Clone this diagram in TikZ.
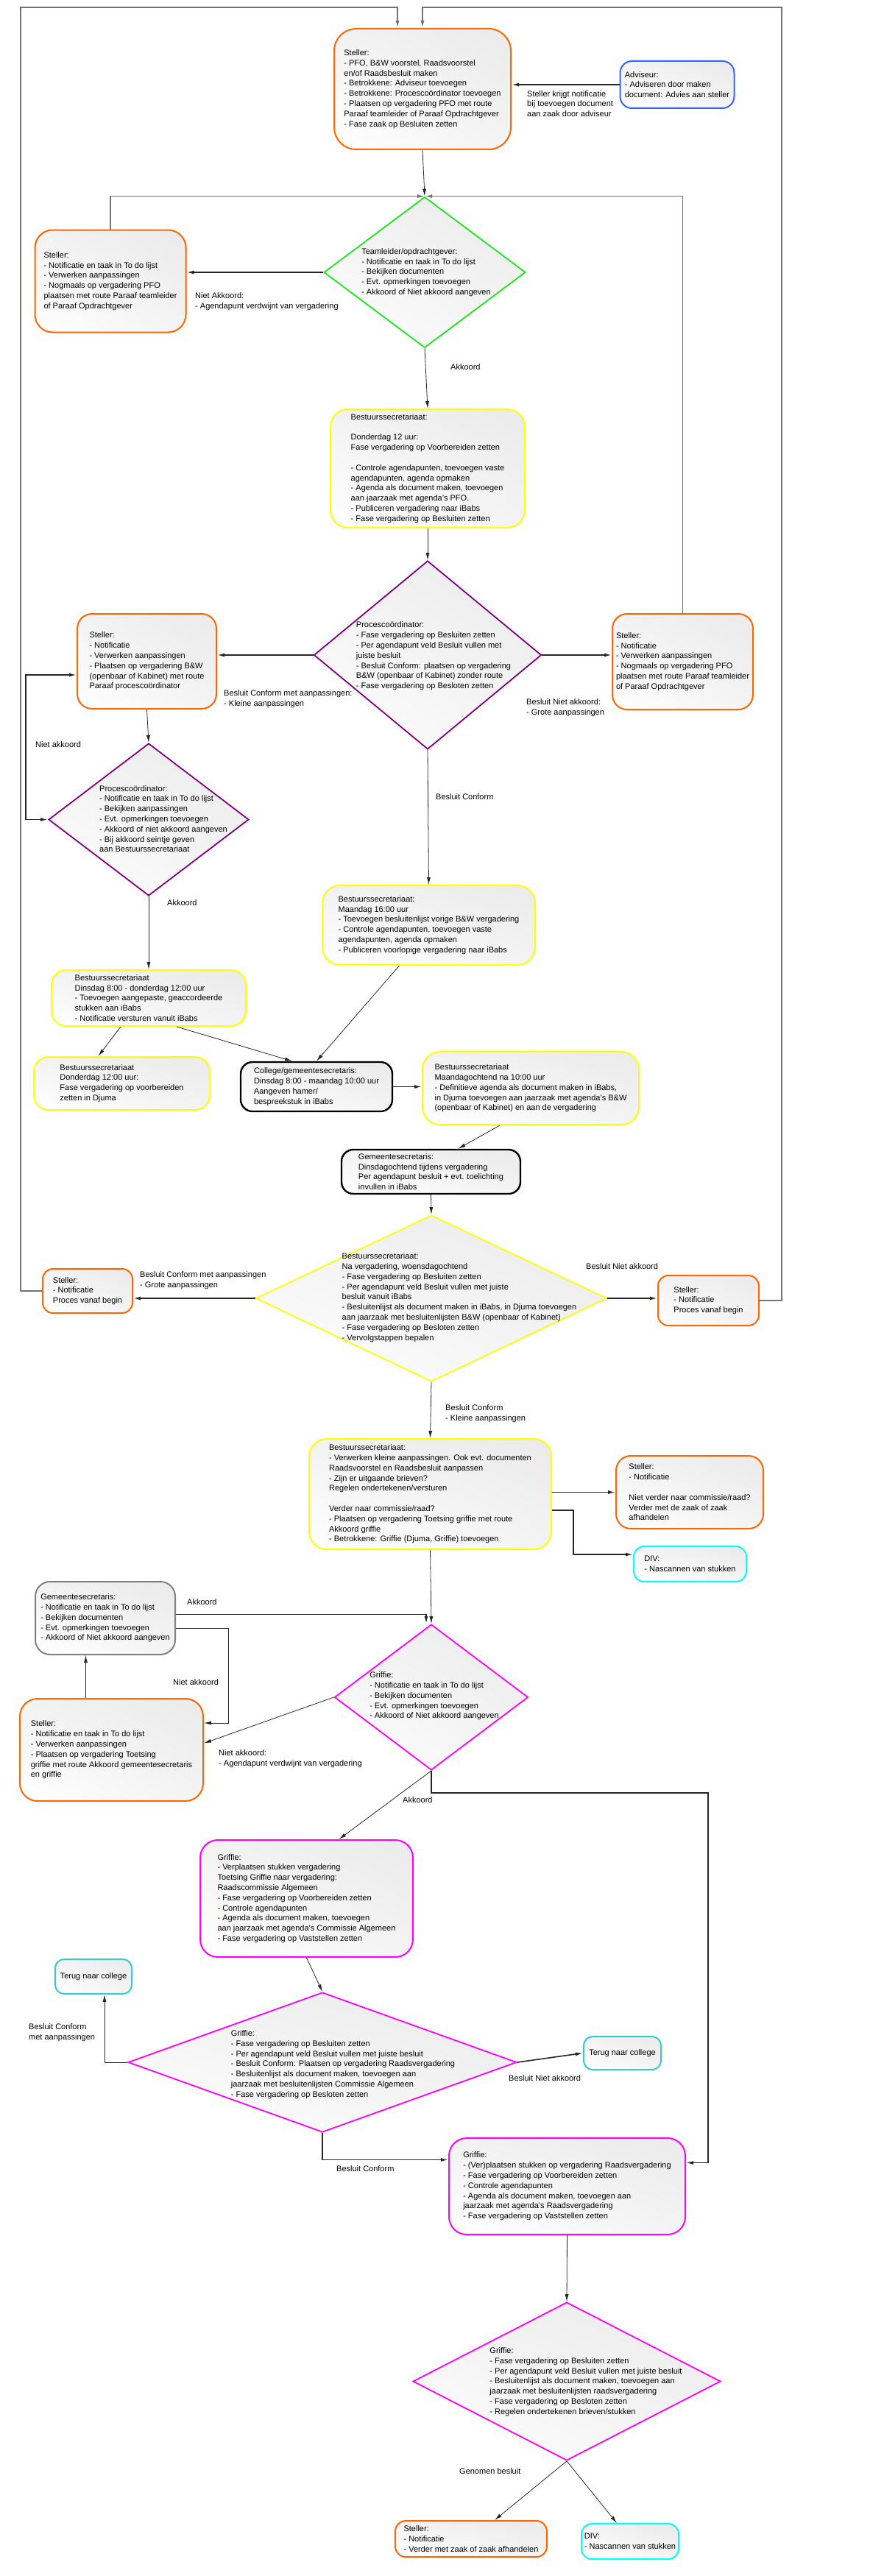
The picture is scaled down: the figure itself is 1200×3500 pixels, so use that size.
\documentclass[tikz,border=0pt]{standalone}
\usepackage{fontspec}
\setmainfont{Liberation Sans}
\usetikzlibrary{shapes.geometric,arrows.meta,shadings}
\definecolor{orng}{RGB}{255,102,0}
\definecolor{blu}{RGB}{51,102,255}
\definecolor{grn}{RGB}{30,230,30}
\definecolor{prpl}{RGB}{128,0,128}
\definecolor{ylw}{RGB}{255,255,0}
\definecolor{mgnt}{RGB}{255,0,255}
\definecolor{cyn}{RGB}{0,255,255}
\definecolor{teal2}{RGB}{51,204,204}
\newcommand\boxfont{\fontsize{11}{13.8}\selectfont}
\tikzset{
  box/.style={rounded corners=24pt, line width=2pt, align=left, inner sep=0pt, font=\boxfont,
    lower left=white, upper left=gray!10, upper right=gray!16, lower right=gray!9},
  steller/.style={box, draw=orng},
  secr/.style={box, draw=ylw},
  griffie/.style={box, draw=mgnt},
  zwart/.style={box, draw=black, line width=2.4pt, rounded corners=16pt},
  divbox/.style={box, draw=cyn, rounded corners=14pt},
  terug/.style={box, draw=teal2, rounded corners=12pt},
  dia/.style={shape=diamond, inner sep=0pt, line width=1.8pt,
    lower left=white, upper left=gray!10, upper right=gray!16, lower right=gray!9},
  dtxt/.style={align=left, inner sep=0pt, font=\boxfont},
  lbl/.style={align=left, inner sep=0pt, anchor=west, font=\boxfont},
  conn/.style={draw=black!85, line width=0.8pt, -{Latex[length=10pt,width=5pt]}},
  thk/.style={line width=1.6pt},
  dubbel/.style={{Latex[length=10pt,width=5pt]}-{Latex[length=10pt,width=5pt]}},
  loopl/.style={draw=black!55, line width=1.6pt, -{Latex[length=10pt,width=5pt]}},
}

\begin{document}
\begin{tikzpicture}[x=1pt,y=-1pt]
\useasboundingbox (0,0) rectangle (1200,3500);
\coordinate (lt) at (28,10);
\coordinate (rt) at (1062,10);
\coordinate (k0) at (35,917);
\coordinate (k1) at (779,2112);
\coordinate (k2) at (310,2341);
\coordinate (k3) at (962,2436);

% PFO
\node[steller, rounded corners=30pt, minimum width=240pt, minimum height=164pt] (st1) at (574,121) {Steller:\\- PFO, B\&W voorstel, Raadsvoorstel\\en/of Raadsbesluit maken\\- Betrokkene: Adviseur toevoegen\\- Betrokkene: Procescoördinator toevoegen\\- Plaatsen op  vergadering PFO met route\\Paraaf teamleider of Paraaf Opdrachtgever\\- Fase zaak op Besluiten zetten};
\node[box, draw=blu, rounded corners=16pt, minimum width=155pt, minimum height=64pt] (adv) at (920,115) {Adviseur:\\- Adviseren door maken\\document: Advies aan steller};
\node[dia, draw=grn, minimum width=274pt, minimum height=205pt] (td) at (577,370) {};
\node[dtxt] (tdt) at (579,370) {Teamleider/opdrachtgever:\\- Notificatie en taak in To do lijst\\- Bekijken documenten\\- Evt. opmerkingen toevoegen\\- Akkoord of Niet akkoord aangeven};
\node[steller, minimum width=205pt, minimum height=139pt] (st2) at (150,382) {Steller:\\- Notificatie en taak in To do lijst\\- Verwerken aanpassingen\\- Nogmaals op vergadering PFO\\plaatsen met route Paraaf teamleider\\of Paraaf Opdrachtgever};

% B&W
\node[secr, minimum width=264pt, minimum height=161pt] (bs1) at (581,636.5) {Bestuurssecretariaat:\\[13.8pt]Donderdag 12 uur:\\Fase vergadering op Voorbereiden zetten\\[13.8pt]- Controle agendapunten, toevoegen vaste\\agendapunten, agenda opmaken\\- Agenda als document maken, toevoegen\\aan jaarzaak met agenda's PFO.\\- Publiceren vergadering naar iBabs\\- Fase vergadering op Besluiten zetten};
\node[dia, draw=prpl, minimum width=309pt, minimum height=256pt] (pc1) at (581,890) {};
\node[dtxt] (pc1t) at (589,891.5) {Procescoördinator:\\- Fase vergadering op Besluiten zetten\\- Per agendapunt veld Besluit vullen met\\juiste besluit\\- Besluit Conform: plaatsen op vergadering\\B\&W (openbaar of Kabinet) zonder route\\- Fase vergadering op Besloten zetten};
\node[steller, rounded corners=20pt, minimum width=189pt, minimum height=129pt] (st3) at (199.5,898.5) {Steller:\\- Notificatie\\- Verwerken aanpassingen\\- Plaatsen op vergadering B\&W\\(openbaar of Kabinet) met route\\Paraaf procescoördinator};
\node[steller, rounded corners=20pt, minimum width=191pt, minimum height=130pt] (st4) at (927.5,899) {Steller:\\- Notificatie\\- Verwerken aanpassingen\\- Nogmaals op vergadering PFO\\plaatsen met route Paraaf teamleider\\of Paraaf Opdrachtgever};
\node[dia, draw=prpl, minimum width=272pt, minimum height=207pt] (pc2) at (202,1113.5) {};
\node[dtxt] (pc2t) at (222,1112.5) {Procescoördinator:\\- Notificatie en taak in To do lijst\\- Bekijken aanpassingen\\- Evt. opmerkingen toevoegen\\- Akkoord of niet akkoord aangeven\\- Bij akkoord seintje geven\\aan Bestuurssecretariaat};
\node[secr, minimum width=289pt, minimum height=108pt] (bs3) at (582.5,1257) {Bestuurssecretariaat:\\Maandag 16:00 uur\\- Toevoegen besluitenlijst vorige B\&W vergadering\\- Controle agendapunten, toevoegen vaste\\agendapunten, agenda opmaken\\- Publiceren voorlopige vergadering naar iBabs};
\node[secr, rounded corners=20pt, minimum width=264pt, minimum height=76pt] (bs2) at (202,1356) {Bestuurssecretariaat\\Dinsdag 8:00 - donderdag 12:00 uur\\- Toevoegen aangepaste, geaccordeerde\\stukken aan iBabs\\- Notificatie versturen vanuit iBabs};
\node[secr, rounded corners=20pt, minimum width=239pt, minimum height=72pt] (bs4) at (165.5,1472) {Bestuurssecretariaat\\Donderdag 12:00 uur:\\Fase vergadering op voorbereiden\\zetten in Djuma};
\node[zwart, minimum width=206pt, minimum height=67pt] (cg) at (430,1476.5) {College/gemeentesecretaris:\\Dinsdag 8:00 - maandag 10:00 uur\\Aangeven hamer/\\bespreekstuk in iBabs};
\node[secr, minimum width=294pt, minimum height=99pt] (bs5) at (721,1478.5) {Bestuurssecretariaat\\Maandagochtend na 10:00 uur\\- Definitieve agenda als document maken in iBabs,\\in Djuma toevoegen aan jaarzaak met agenda's B\&W\\(openbaar of Kabinet) en aan de vergadering};
\node[zwart, minimum width=243pt, minimum height=60pt] (gs1) at (585.5,1592) {Gemeentesecretaris:\\Dinsdagochtend tijdens vergadering\\Per agendapunt besluit + evt. toelichting\\invullen in iBabs};
\node[dia, draw=ylw, minimum width=477pt, minimum height=226pt] (bd) at (586,1764) {};
\node[dtxt] (bdt) at (624,1763) {Bestuurssecretariaat:\\Na vergadering, woensdagochtend\\- Fase vergadering op Besluiten zetten\\- Per agendapunt veld Besluit vullen met juiste\\besluit vanuit iBabs\\- Besluitenlijst als document maken in iBabs, in Djuma toevoegen\\aan jaarzaak met besluitenlijsten B\&W (openbaar of Kabinet)\\- Fase vergadering op Besloten zetten\\- Vervolgstappen bepalen};
\node[steller, rounded corners=14pt, minimum width=122pt, minimum height=60pt] (sl) at (119,1754) {Steller:\\- Notificatie\\Proces vanaf begin};
\node[steller, rounded corners=14pt, minimum width=137pt, minimum height=68pt] (sr) at (962.5,1767) {Steller:\\- Notificatie\\Proces vanaf begin};
\node[secr, minimum width=329pt, minimum height=150pt] (bs6) at (584.5,2030) {Bestuurssecretariaat:\\- Verwerken kleine aanpassingen. Ook evt. documenten\\Raadsvoorstel en Raadsbesluit aanpassen\\- Zijn er uitgaande brieven?\\Regelen ondertekenen/versturen\\[13.8pt]Verder naar commissie/raad?\\- Plaatsen op vergadering Toetsing griffie met route\\Akkoord griffie\\- Betrokkene: Griffie (Djuma, Griffie) toevoegen};
\node[steller, rounded corners=20pt, minimum width=200pt, minimum height=99pt] (st5) at (937,2027.5) {Steller:\\- Notificatie\\[13.8pt]Niet verder naar commissie/raad?\\Verder met de zaak of zaak\\afhandelen};
\node[divbox, minimum width=153pt, minimum height=48pt] (div1) at (937.5,2125) {DIV:\\- Nascannen van stukken};

% griffie
\node[box, draw=gray, rounded corners=20pt, minimum width=190pt, minimum height=99pt] (gs2) at (143,2198.5) {Gemeentesecretaris:\\- Notificatie en taak in To do lijst\\- Bekijken documenten\\- Evt. opmerkingen toevoegen\\- Akkoord of Niet akkoord aangeven};
\node[dia, draw=mgnt, minimum width=263pt, minimum height=198pt] (gd1) at (586,2306) {};
\node[dtxt] (gd1t) at (590,2304.5) {Griffie:\\- Notificatie en taak in To do lijst\\- Bekijken documenten\\- Evt. opmerkingen toevoegen\\- Akkoord of Niet akkoord aangeven};
\node[steller, minimum width=249pt, minimum height=139pt] (st6) at (151.5,2377.5) {Steller:\\- Notificatie en taak in To do lijst\\- Verwerken aanpassingen\\- Plaatsen op vergadering Toetsing\\griffie met route Akkoord gemeentesecretaris\\en griffie};
\node[griffie, minimum width=289pt, minimum height=159pt] (gb1) at (416.5,2579.5) {Griffie:\\- Verplaatsen stukken vergadering\\Toetsing Griffie naar vergadering:\\Raadscommissie Algemeen\\- Fase vergadering op Voorbereiden zetten\\- Controle agendapunten\\- Agenda als document maken, toevoegen\\aan jaarzaak met agenda's Commissie Algemeen\\- Fase vergadering op Vaststellen zetten};
\node[dia, draw=mgnt, minimum width=528pt, minimum height=190pt] (gd2) at (438,2802) {};
\node[dtxt] (gd2t) at (466,2805) {Griffie:\\- Fase vergadering op Besluiten zetten\\- Per agendapunt veld Besluit vullen met juiste besluit\\- Besluit Conform: Plaatsen op vergadering Raadsvergadering\\- Besluitenlijst als document maken, toevoegen aan\\jaarzaak met besluitenlijsten Commissie Algemeen\\- Fase vergadering op Besloten zetten};
\node[terug, minimum width=104pt, minimum height=47pt] (tc1) at (127,2685.5) {Terug naar college};
\node[terug, minimum width=105pt, minimum height=45pt] (tc2) at (845.5,2789.5) {Terug naar college};
\node[griffie, minimum width=321pt, minimum height=131pt] (gb2) at (770.5,2970.5) {Griffie:\\- (Ver)plaatsen stukken op vergadering Raadsvergadering\\- Fase vergadering op Voorbereiden zetten\\- Controle agendapunten\\- Agenda als document maken, toevoegen aan\\jaarzaak met agenda's Raadsvergadering\\- Fase vergadering op Vaststellen zetten};
\node[dia, draw=mgnt, minimum width=418pt, minimum height=215pt] (gd3) at (770,3235.5) {};
\node[dtxt] (gd3t) at (796,3236) {Griffie:\\- Fase vergadering op Besluiten zetten\\- Per agendapunt veld Besluit vullen met juiste besluit\\- Besluitenlijst als document maken, toevoegen aan\\jaarzaak met besluitenlijsten raadsvergadering\\- Fase vergadering op Besloten zetten\\- Regelen ondertekenen brieven/stukken};
\node[steller, rounded corners=14pt, minimum width=206pt, minimum height=49pt] (st7) at (640,3449.5) {Steller:\\- Notificatie\\- Verder met zaak of zaak afhandelen};
\node[divbox, minimum width=132pt, minimum height=48pt] (div2) at (856,3453) {DIV:\\- Nascannen van stukken};

% connectors
\draw[conn,thk] (adv.west) -- (adv.west -| st1.east);
\draw[conn] (st1.south) -- (td.north);
\draw[conn,thk] (td.west) -- (td.west -| st2.east);
\draw[conn] (td.south) -- (bs1.north);
\draw[loopl] (st2.north) |- (td.north);
\draw[loopl] (st4.north) |- (td.north);
\draw[conn] (bs1.south) -- (pc1.north);
\draw[conn,thk] (pc1.west) -- (pc1.west -| st3.east);
\draw[conn,thk] (pc1.east) -- (pc1.east -| st4.west);
\draw[conn] (st3.south) -- (pc2.north);
\draw[conn,thk,dubbel] (pc2.west) -| (k0) -- (k0 -| st3.west);
\draw[conn] (pc1.south) -- (bs3.north);
\draw[conn] (pc2.south) -- (bs2.north);
\draw[conn] ([xshift=-38pt]bs2.south) -- ([xshift=-32pt]bs4.north);
\draw[conn] ([xshift=38pt]bs2.south) -- ([xshift=-33pt]cg.north);
\draw[conn] ([xshift=-40pt]bs3.south) -- (cg.north);
\draw[conn,thk] (cg.east) -- (cg.east -| bs5.west);
\draw[conn] ([xshift=-42pt]bs5.south) -- ([xshift=37pt]gs1.north);
\draw[conn] (gs1.south) -- (bd.north);
\draw[conn,thk] (bd.west) -- (bd.west -| sl.east);
\draw[conn,thk] (bd.east) -- (bd.east -| sr.west);
\draw[loopl] (sl.west) -| (lt) -| ([xshift=-34pt]st1.north);
\draw[loopl] (sr.east) -| (rt) -| (st1.north);
\draw[conn] (bd.south) -- (bs6.north);
\draw[conn,thk] (bs6.east |- st5.west) -- (st5.west);
\draw[conn,thk] ([yshift=-22pt]bs6.east) -| (k1) -- (k1 -| div1.west);
\draw[conn] (bs6.south) -- (gd1.north);
\draw[conn,thk] ([yshift=5pt]gs2.east) -| ([xshift=-7pt]gd1.north);
\draw[conn] ([yshift=-14pt]gs2.east) -| (k2) -- (k2 -| st6.east);
\draw[conn] ([xshift=-35pt]st6.north) -- ([xshift=-35pt]st6.north |- gs2.south);
\draw[conn] (gd1.west) -- ([yshift=9pt]st6.east);
\draw[conn] (gd1.south) -- ([xshift=44pt]gb1.north);
\draw[conn,thk] (gd1.south) |- (k3) |- ([yshift=32pt]gb2.east);
\draw[conn] (gb1.south) -- (gd2.north);
\draw[conn] (gd2.west) -| ([xshift=15pt]tc1.south);
\draw[conn,thk] (gd2.east) -- (tc2.west);
\draw[conn,thk] (gd2.south) |- ([yshift=36pt]gb2.west);
\draw[conn] (gb2.south) -- (gd3.north);
\draw[conn] (gd3.south) -- ([xshift=32pt]st7.north);
\draw[conn] (gd3.south) -- ([xshift=-18pt]div2.north);

% labels
\node[lbl] (l-adv) at (716,141) {Steller krijgt notificatie\\bij toevoegen document\\aan zaak door adviseur};
\node[lbl] (l-na1) at (265,409.5) {Niet Akkoord:\\- Agendapunt verdwijnt van vergadering};
\node[lbl] (l-ak1) at (612,499) {Akkoord};
\node[lbl] (l-bc1) at (304,949.5) {Besluit Conform met aanpassingen:\\- Kleine aanpassingen};
\node[lbl] (l-bn1) at (715,962) {Besluit Niet akkoord:\\- Grote aanpassingen};
\node[lbl] (l-na2) at (48,1012) {Niet akkoord};
\node[lbl] (l-bc2) at (592,1083) {Besluit Conform};
\node[lbl] (l-ak2) at (227,1227) {Akkoord};
\node[lbl] (l-bc3) at (190,1739.5) {Besluit Conform met aanpassingen\\- Grote aanpassingen};
\node[lbl] (l-bn2) at (796,1721) {Besluit Niet akkoord};
\node[lbl] (l-bc4) at (605,1921) {Besluit Conform\\- Kleine aanpassingen};
\node[lbl] (l-ak3) at (254,2177) {Akkoord};
\node[lbl] (l-na3) at (235,2286) {Niet akkoord};
\node[lbl] (l-na4) at (297,2389.5) {Niet akkoord:\\- Agendapunt verdwijnt van vergadering};
\node[lbl] (l-ak4) at (547,2446) {Akkoord};
\node[lbl] (l-bc5) at (39,2762) {Besluit Conform\\met aanpassingen};
\node[lbl] (l-bn3) at (691,2824) {Besluit Niet akkoord};
\node[lbl] (l-bc6) at (457,2947) {Besluit Conform};
\node[lbl] (l-gb) at (624,3358) {Genomen besluit};
\end{tikzpicture}
\end{document}
